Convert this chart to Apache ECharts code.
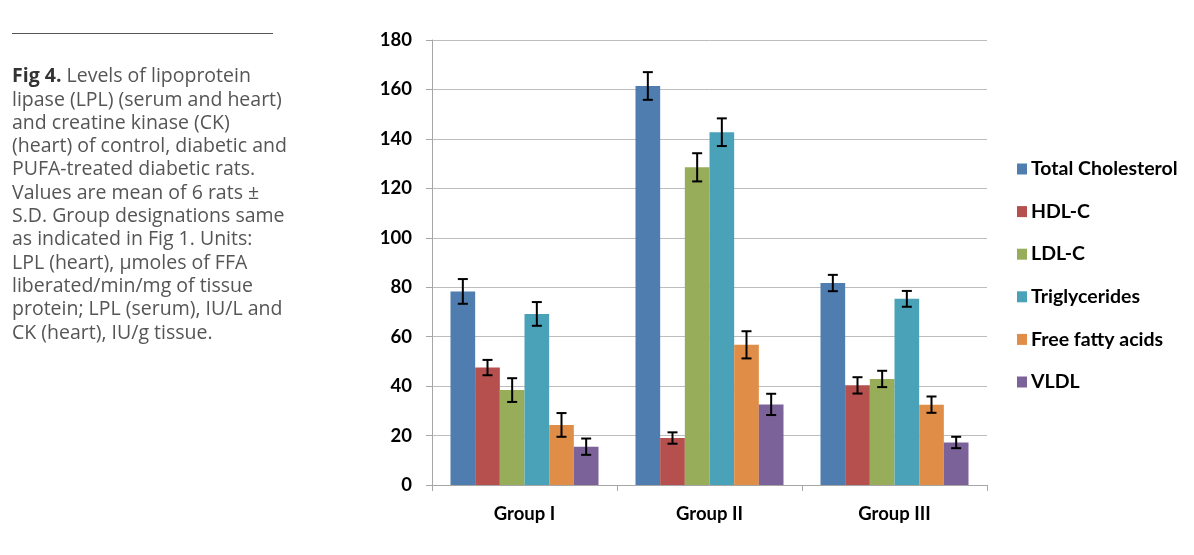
<!DOCTYPE html>
<html>
<head>
<meta charset="utf-8">
<script src="https://cdn.jsdelivr.net/npm/echarts@6/dist/echarts.min.js"></script>
<style>
html,body{margin:0;padding:0;background:#fff;}
#chart{width:1194px;height:555px;}
</style>
</head>
<body>
<div id="chart"></div>
<script>
var categories = ['Group I', 'Group II', 'Group III'];
var seriesNames = ['Total Cholesterol', 'HDL-C', 'LDL-C', 'Triglycerides', 'Free fatty acids', 'VLDL'];
var totalCholesterol = [78.3, 161.4, 81.7];
var hdlC = [47.5, 19.0, 40.3];
var ldlC = [38.4, 128.5, 42.9];
var triglycerides = [69.2, 142.7, 75.3];
var freeFattyAcids = [24.3, 56.7, 32.5];
var vldl = [15.5, 32.6, 17.2];
var sdTotalCholesterol = [5.0, 5.6, 3.3];
var sdHdlC = [3.1, 2.3, 3.3];
var sdLdlC = [4.8, 5.7, 3.3];
var sdTriglycerides = [4.8, 5.6, 3.2];
var sdFreeFattyAcids = [4.8, 5.5, 3.3];
var sdVldl = [3.3, 4.3, 2.3];
var yTicks = [0, 20, 40, 60, 80, 100, 120, 140, 160, 180];

var means = [totalCholesterol, hdlC, ldlC, triglycerides, freeFattyAcids, vldl];
var sds = [sdTotalCholesterol, sdHdlC, sdLdlC, sdTriglycerides, sdFreeFattyAcids, sdVldl];
var colors = ['#4F7DAF', '#B5504E', '#97AD5A', '#4AA2B8', '#E08D48', '#7B6299'];

var catGap = 0.2;
var nSeries = means.length;

var series = [];
means.forEach(function (vals, i) {
  series.push({
    name: seriesNames[i],
    type: 'bar',
    data: vals,
    barGap: '0%',
    barCategoryGap: (catGap * 100) + '%',
    itemStyle: { color: colors[i] },
    emphasis: { disabled: true },
    z: 2
  });
});
means.forEach(function (vals, i) {
  var d = vals.map(function (v, k) { return [k, v - sds[i][k], v + sds[i][k]]; });
  series.push({
    type: 'custom',
    name: 'err' + i,
    data: d,
    z: 5,
    silent: true,
    encode: { x: 0, y: [1, 2] },
    renderItem: function (params, api) {
      var k = api.value(0);
      var lo = api.coord([k, api.value(1)]);
      var hi = api.coord([k, api.value(2)]);
      var bandW = api.size([1, 0])[0];
      var bw = bandW * (1 - catGap) / nSeries;
      var x = lo[0] + (i - (nSeries - 1) / 2) * bw;
      var cap = 5;
      var st = { stroke: '#000', lineWidth: 2 };
      return {
        type: 'group',
        children: [
          { type: 'line', shape: { x1: x, y1: lo[1], x2: x, y2: hi[1] }, style: st },
          { type: 'line', shape: { x1: x - cap, y1: lo[1], x2: x + cap, y2: lo[1] }, style: st },
          { type: 'line', shape: { x1: x - cap, y1: hi[1], x2: x + cap, y2: hi[1] }, style: st }
        ]
      };
    }
  });
});

var captionLines = [
  '{b|Fig 4.} Levels of lipoprotein',
  'lipase (LPL) (serum and heart)',
  'and creatine kinase (CK)',
  '(heart) of control, diabetic and',
  'PUFA-treated diabetic rats.',
  'Values are mean of 6 rats \u00B1',
  'S.D. Group designations same',
  'as indicated in Fig 1. Units:',
  'LPL (heart), \u00B5moles of FFA',
  'liberated/min/mg of tissue',
  'protein; LPL (serum), IU/L and',
  'CK (heart), IU/g tissue.'
];

var chart = echarts.init(document.getElementById('chart'));
chart.setOption({
  animation: false,
  backgroundColor: '#fff',
  grid: { left: 432, right: 207, top: 40, bottom: 70, containLabel: false },
  legend: {
    orient: 'vertical',
    left: 1012,
    top: 154,
    itemWidth: 10,
    itemHeight: 11,
    itemGap: 22.6,
    icon: 'rect',
    data: seriesNames,
    textStyle: { fontFamily: 'Lato', fontWeight: 'bold', fontSize: 19.5, lineHeight: 20, color: '#000', padding: [0, 0, 0, -1] }
  },
  xAxis: {
    type: 'category',
    data: categories,
    axisLine: { lineStyle: { color: '#A6A6A6', width: 1 } },
    axisTick: { show: true, length: 6, lineStyle: { color: '#A6A6A6' }, alignWithLabel: false },
    axisLabel: { fontFamily: 'Lato', fontWeight: 'bold', fontSize: 18.5, color: '#000', margin: 20 }
  },
  yAxis: {
    type: 'value',
    min: yTicks[0],
    max: yTicks[yTicks.length - 1],
    interval: yTicks[1] - yTicks[0],
    axisLine: { show: true, lineStyle: { color: '#A6A6A6' } },
    axisTick: { show: true, length: 6, lineStyle: { color: '#A6A6A6' } },
    splitLine: { lineStyle: { color: '#BDBDBD', width: 1 } },
    axisLabel: { fontFamily: 'Lato', fontWeight: 'bold', fontSize: 18.5, color: '#000', margin: 20 }
  },
  title: {
    left: 12,
    top: 65,
    padding: 0,
    text: captionLines.join('\n'),
    textStyle: {
      fontFamily: 'Open Sans',
      fontWeight: 'normal',
      fontSize: 19.5,
      color: '#555',
      lineHeight: 23.3,
      rich: {
        b: { fontFamily: 'Open Sans', fontWeight: 'bold', fontSize: 19.5, color: '#333', lineHeight: 23.3 }
      }
    }
  },
  graphic: [
    { type: 'line', shape: { x1: 12, y1: 33.5, x2: 273, y2: 33.5 }, style: { stroke: '#555', lineWidth: 1 } }
  ],
  series: series
});
</script>
</body>
</html>
